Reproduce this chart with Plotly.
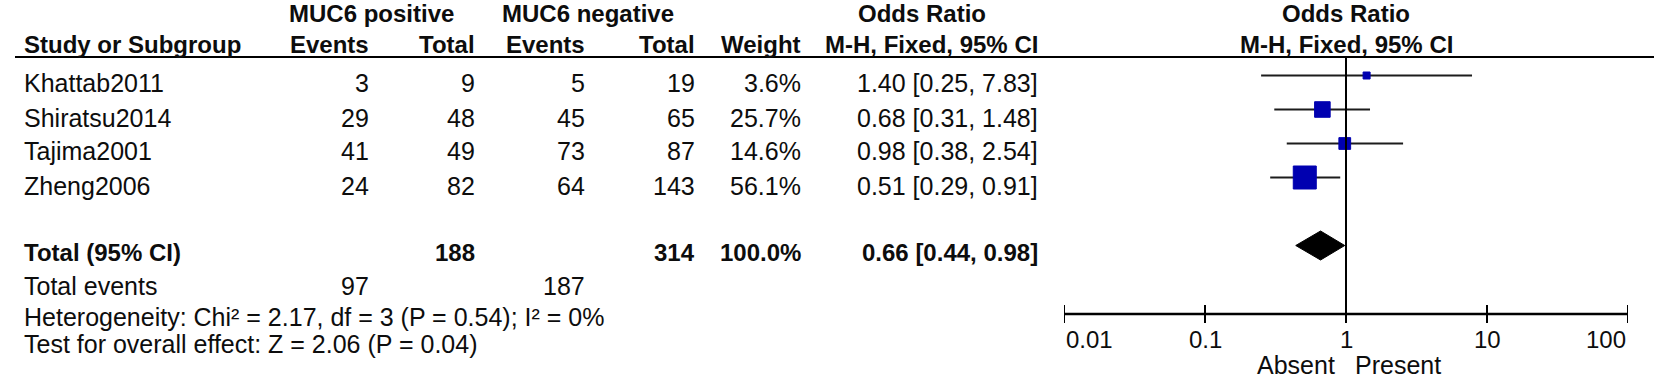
import math
import plotly.graph_objects as go

# ---------------- data ----------------
studies = ["Khattab2011", "Shiratsu2014", "Tajima2001", "Zheng2006"]
pos_events = [3, 29, 41, 24]
pos_total = [9, 48, 49, 82]
neg_events = [5, 45, 73, 64]
neg_total = [19, 65, 87, 143]
weights = [3.6, 25.7, 14.6, 56.1]
or_est = [1.40, 0.68, 0.98, 0.51]
ci_low = [0.25, 0.31, 0.38, 0.29]
ci_high = [7.83, 1.48, 2.54, 0.91]

total_label = "Total (95% CI)"
total_pos = 188
total_neg = 314
total_weight = 100.0
total_or = 0.66
total_low = 0.44
total_high = 0.98
events_label = "Total events"
events_pos = 97
events_neg = 187
heterogeneity = "Heterogeneity: Chi² = 2.17, df = 3 (P = 0.54); I² = 0%"
overall = "Test for overall effect: Z = 2.06 (P = 0.04)"

group_headers = ["MUC6 positive", "MUC6 negative", "Odds Ratio"]
col_headers = ["Study or Subgroup", "Events", "Total", "Events", "Total", "Weight", "M-H, Fixed, 95% CI"]
plot_headers = ["Odds Ratio", "M-H, Fixed, 95% CI"]
tick_vals = [0.01, 0.1, 1, 10, 100]
tick_text = ["0.01", "0.1", "1", "10", "100"]
favours = ["Absent", "Present"]

# ---------------- layout constants ----------------
W, H = 1654, 382
FONT = "Liberation Sans, Arial, sans-serif"
REG, BLD = 25, 24
TXT = "#0d0d0d"
ROW0_PX, ROW_STEP = 75.5, 34.0          # row index -> pixel mapping for the y axis
X_LEFT = 22
COL_RIGHT = [371, 477, 587, 697, 803, 1040]   # right edges of numeric columns
GROUP_CENTER = [371, 588, 922]
AXIS_PX = (1064, 1628)
MARKER_COLOR = "#0000b0"


def xp(px):
    return px / W


def yp(px):
    return 1 - px / H


def row_of(px):
    return (px - ROW0_PX) / ROW_STEP


fig = go.Figure()
annotations = []


def txt(s, x, ypx, xanchor, bold=False, size=None, xref="paper", xshift=0):
    annotations.append(dict(
        text=f"<b>{s}</b>" if bold else s, x=x, y=yp(ypx), xref=xref, yref="paper",
        xanchor=xanchor, yanchor="middle", showarrow=False, xshift=xshift,
        font=dict(family=FONT, size=size or (BLD if bold else REG), color=TXT)))


# ---------------- table headers ----------------
for s, c in zip(group_headers, GROUP_CENTER):
    txt(s, xp(c), 13, "center", bold=True)
txt(col_headers[0], xp(X_LEFT), 45, "left", bold=True)
for s, r in zip(col_headers[1:], COL_RIGHT):
    txt(s, xp(r), 45, "right", bold=True)

# ---------------- study rows ----------------
n = len(studies)
for i in range(n):
    ypx = ROW0_PX + ROW_STEP * i + 8
    txt(studies[i], xp(X_LEFT), ypx, "left")
    vals = [str(pos_events[i]), str(pos_total[i]), str(neg_events[i]), str(neg_total[i]),
            f"{weights[i]:.1f}%", f"{or_est[i]:.2f} [{ci_low[i]:.2f}, {ci_high[i]:.2f}]"]
    for s, r in zip(vals, COL_RIGHT):
        txt(s, xp(r), ypx, "right")

# total row
tot_row = n + 1
ytot = ROW0_PX + ROW_STEP * tot_row + 7
txt(total_label, xp(X_LEFT), ytot, "left", bold=True)
txt(str(total_pos), xp(COL_RIGHT[1]), ytot, "right", bold=True)
txt(str(total_neg), xp(COL_RIGHT[3]), ytot, "right", bold=True)
txt(f"{total_weight:.1f}%", xp(COL_RIGHT[4]), ytot, "right", bold=True)
txt(f"{total_or:.2f} [{total_low:.2f}, {total_high:.2f}]", xp(COL_RIGHT[5]), ytot, "right", bold=True)

# totals events / footers
txt(events_label, xp(X_LEFT), 286, "left")
txt(str(events_pos), xp(COL_RIGHT[0]), 286, "right")
txt(str(events_neg), xp(COL_RIGHT[2]), 286, "right")
txt(heterogeneity, xp(X_LEFT), 317, "left")
txt(overall, xp(X_LEFT), 344, "left")

# ---------------- forest plot ----------------
rows = list(range(n))
for i in rows:
    fig.add_trace(go.Scatter(x=[ci_low[i], ci_high[i]], y=[i, i], mode="lines",
                             line=dict(color="#1c1c1c", width=2), hoverinfo="skip", showlegend=False))
sizes = [max(7.0, 3.07 * math.sqrt(w)) for w in weights]
fig.add_trace(go.Scatter(x=or_est, y=rows, mode="markers", opacity=1,
                         marker=dict(symbol="square", size=sizes, color=MARKER_COLOR, opacity=1,
                                     line=dict(width=1, color=MARKER_COLOR)),
                         hoverinfo="skip", showlegend=False))

# diamond
dh = 14.5 / ROW_STEP
fig.add_trace(go.Scatter(x=[total_low, total_or, total_high, total_or, total_low],
                         y=[tot_row, tot_row - dh, tot_row, tot_row + dh, tot_row],
                         mode="lines", fill="toself", fillcolor="black",
                         line=dict(color="black", width=1), hoverinfo="skip", showlegend=False))

axis_row = row_of(314)
underline_row = row_of(57)
# line of no effect
fig.add_trace(go.Scatter(x=[1, 1], y=[underline_row, axis_row], mode="lines",
                         line=dict(color="black", width=2), hoverinfo="skip", showlegend=False))
# axis line
fig.add_trace(go.Scatter(x=[tick_vals[0], tick_vals[-1]], y=[axis_row, axis_row], mode="lines",
                         line=dict(color="black", width=2.5), hoverinfo="skip", showlegend=False))
# ticks
tx, ty = [], []
th = 9 / ROW_STEP
for v in tick_vals:
    tx += [v, v, None]
    ty += [axis_row - th, axis_row + th, None]
fig.add_trace(go.Scatter(x=tx, y=ty, mode="lines", line=dict(color="black", width=2),
                         hoverinfo="skip", showlegend=False))
for k, (v, s) in enumerate(zip(tick_vals, tick_text)):
    anchor = "left" if k == 0 else ("right" if k == len(tick_vals) - 1 else "center")
    txt(s, math.log10(v), 339, anchor, xref="x", size=24)

txt(plot_headers[0], 0, 13, "center", bold=True, xref="x")
txt(plot_headers[1], 0, 45, "center", bold=True, xref="x")
txt(favours[0], 0, 365, "right", xref="x", size=25, xshift=-9)
txt(favours[1], 0, 365, "left", xref="x", size=25, xshift=7)

shapes = [dict(type="line", xref="paper", yref="paper", x0=xp(15), x1=1.0,
               y0=yp(57), y1=yp(57), line=dict(color="black", width=2))]

fig.update_layout(
    width=W, height=H, autosize=False,
    margin=dict(l=0, r=0, t=0, b=0, pad=0),
    paper_bgcolor="white", plot_bgcolor="white",
    showlegend=False,
    xaxis=dict(type="log", range=[math.log10(tick_vals[0]), math.log10(tick_vals[-1])],
               domain=[xp(AXIS_PX[0]), xp(AXIS_PX[1])], visible=False, fixedrange=True),
    yaxis=dict(range=[row_of(H), row_of(0)], domain=[0, 1], visible=False, fixedrange=True),
    annotations=annotations, shapes=shapes,
)

fig.write_html("out.html", config={"displayModeBar": False},
               post_script="document.body.style.margin='0px';")
